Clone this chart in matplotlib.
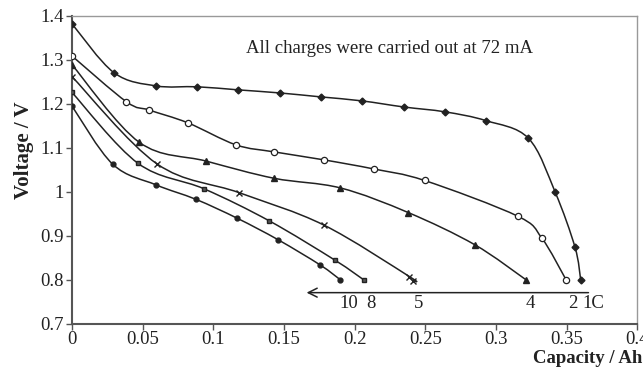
import matplotlib
matplotlib.use("Agg")
import matplotlib.pyplot as plt
from matplotlib.path import Path
from matplotlib import patches
import numpy as np

plt.rcParams['font.family'] = ['Liberation Serif', 'DejaVu Serif']

# --- data ---
c1_x = [0, 0.0297, 0.0595, 0.0885, 0.1175, 0.147, 0.176, 0.205, 0.235, 0.264, 0.293, 0.323, 0.342, 0.356, 0.360]
c1_y = [1.382, 1.271, 1.241, 1.239, 1.232, 1.225, 1.216, 1.207, 1.193, 1.182, 1.162, 1.122, 0.999, 0.874, 0.800]
c2_x = [0, 0.0385, 0.0547, 0.082, 0.116, 0.143, 0.178, 0.2138, 0.2495, 0.3153, 0.3325, 0.3497]
c2_y = [1.309, 1.205, 1.186, 1.157, 1.107, 1.091, 1.073, 1.052, 1.026, 0.945, 0.895, 0.800]
c4_x = [0, 0.0475, 0.095, 0.143, 0.190, 0.238, 0.285, 0.3214]
c4_y = [1.289, 1.113, 1.070, 1.031, 1.009, 0.953, 0.880, 0.800]
c5_x = [0, 0.060, 0.1185, 0.178, 0.2388, 0.2412]
c5_y = [1.262, 1.064, 0.998, 0.925, 0.8075, 0.7985]
c8_x = [0, 0.0467, 0.0935, 0.1397, 0.186, 0.2065]
c8_y = [1.226, 1.065, 1.007, 0.934, 0.845, 0.800]
c10_x = [0, 0.0288, 0.0595, 0.0878, 0.117, 0.146, 0.1756, 0.190]
c10_y = [1.195, 1.063, 1.016, 0.983, 0.940, 0.891, 0.834, 0.800]

rate_labels = ["10", "8", "5", "4", "2", "1C"]
rate_label_x = [0.196, 0.2115, 0.245, 0.324, 0.3545, 0.3686]
label_y = 0.747
arrow_start = 0.3655
arrow_end = 0.166
arrow_y = 0.771

x_ticks = [0, 0.05, 0.1, 0.15, 0.2, 0.25, 0.3, 0.35, 0.4]
x_ticklabels = ["0", "0.05", "0.1", "0.15", "0.2", "0.25", "0.3", "0.35", "0.4"]
y_ticks = [0.7, 0.8, 0.9, 1.0, 1.1, 1.2, 1.3, 1.4]
y_ticklabels = ["0.7", "0.8", "0.9", "1", "1.1", "1.2", "1.3", "1.4"]

LINE = "#222222"
FS = 13.5


def smooth_path(xs, ys):
    """Catmull-Rom style bezier through the points (like Excel smoothed line)"""
    p = np.column_stack([xs, ys])
    n = len(p)
    verts = [p[0]]
    codes = [Path.MOVETO]
    for i in range(n - 1):
        p0 = p[i - 1] if i > 0 else p[i]
        p1 = p[i]
        p2 = p[i + 1]
        p3 = p[i + 2] if i + 2 < n else p[i + 1]
        verts += [p1 + (p2 - p0) / 6, p2 - (p3 - p1) / 6, p2]
        codes += [Path.CURVE4] * 3
    return Path(verts, codes)


fig = plt.figure(figsize=(6.43, 3.71), dpi=100)
ax = fig.add_axes([0.112, 0.127, 0.879, 0.830])
ax.set_xlim(0, 0.4)
ax.set_ylim(0.7, 1.4)

series = [
    (c1_x, c1_y, dict(marker="D", ms=3.5, mfc=LINE, mec=LINE)),
    (c2_x, c2_y, dict(marker="o", ms=4.5, mfc="white", mec=LINE, mew=0.9)),
    (c4_x, c4_y, dict(marker="^", ms=4.5, mfc=LINE, mec=LINE)),
    (c5_x, c5_y, dict(marker="x", ms=5, mec=LINE, mew=1.0)),
    (c8_x, c8_y, dict(marker="s", ms=3, mfc="#555555", mec=LINE)),
    (c10_x, c10_y, dict(marker="o", ms=3.5, mfc=LINE, mec=LINE)),
]
for xs, ys, mk in series:
    ax.add_patch(patches.PathPatch(smooth_path(xs, ys), fill=False, ec=LINE, lw=1.1, zorder=2))
    ax.plot(xs, ys, ls="none", zorder=3, **mk)

# arrow and C-rate labels
ax.annotate("", xy=(arrow_end, arrow_y), xytext=(arrow_start, arrow_y),
            arrowprops=dict(arrowstyle="->", color=LINE, lw=1.1, mutation_scale=16,
                            shrinkA=0, shrinkB=0))
for lab, lx in zip(rate_labels, rate_label_x):
    ax.text(lx, label_y, lab, ha="center", va="center", fontsize=FS, color="#222222")

ax.text(0.123, 1.327, "All charges were carried out at 72 mA", ha="left", va="center",
        fontsize=FS, color="#222222")

ax.set_xticks(x_ticks)
ax.set_xticklabels(x_ticklabels)
ax.set_yticks(y_ticks)
ax.set_yticklabels(y_ticklabels)
ax.tick_params(direction="out", length=4, width=1, colors="#555555", labelcolor="#222222",
               labelsize=FS)
ax.tick_params(axis="x", pad=1)
ax.tick_params(axis="y", pad=2)

for side in ["left", "bottom"]:
    ax.spines[side].set_color("#555555")
    ax.spines[side].set_linewidth(1.5)
for side in ["top", "right"]:
    ax.spines[side].set_color("#999999")
    ax.spines[side].set_linewidth(1.0)

ax.set_ylabel("Voltage / V", fontsize=15, fontweight="bold", color="#222222")
ax.yaxis.set_label_coords(-0.085, 0.565)
ax.yaxis.label.set_va("center")
ax.set_xlabel("Capacity / Ah", fontsize=13.5, fontweight="bold", color="#222222")
ax.xaxis.set_label_coords(1.009, -0.114)
ax.xaxis.label.set_ha("right")
ax.xaxis.label.set_va("center")

fig.savefig("out.png", dpi=100)
